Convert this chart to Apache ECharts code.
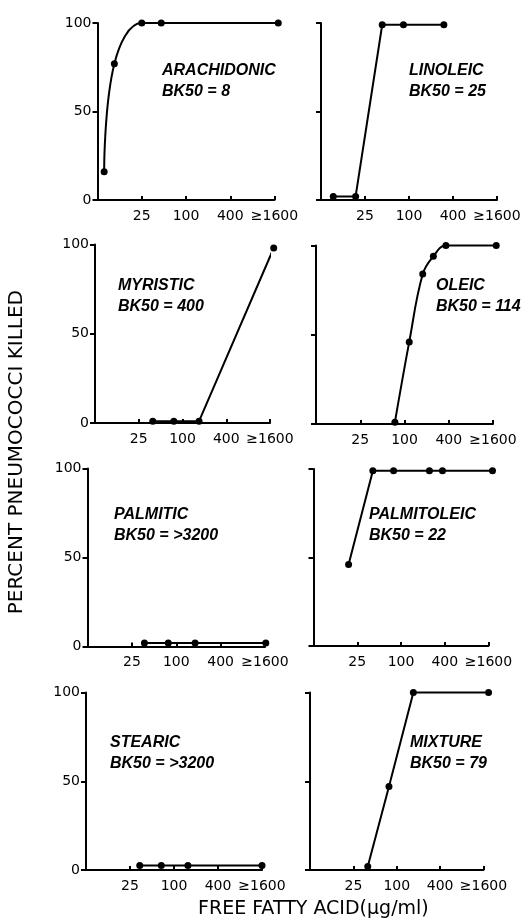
<!DOCTYPE html>
<html>
<head>
<meta charset="utf-8">
<script src="https://cdn.jsdelivr.net/npm/echarts@6/dist/echarts.min.js"></script>
<style>
html,body{margin:0;padding:0;background:#fff;}
#chart{width:530px;height:924px;}
</style>
</head>
<body>
<div id="chart"></div>
<script>
// ---- data (x = free fatty acid µg/ml, y = percent pneumococci killed) ----
const panelNames = ['ARACHIDONIC','LINOLEIC','MYRISTIC','OLEIC','PALMITIC','PALMITOLEIC','STEARIC','MIXTURE'];
const panelBK50 = ['BK50 = 8','BK50 = 25','BK50 = 400','BK50 = 114','BK50 = >3200','BK50 = 22','BK50 = >3200','BK50 = 79'];

const arachidonicX = [7.7, 10.6, 25, 46, 1800];
const arachidonicY = [16, 77, 100, 100, 100];
const linoleicX = [9.2, 18.6, 43, 84, 300];
const linoleicY = [2, 2, 99, 99, 99];
const myristicX = [39, 76, 169, 1800];
const myristicY = [1, 1, 1, 98];
const oleicX = [74, 116, 177, 247, 366, 1770];
const oleicY = [1, 46, 84, 94, 100, 100];
const palmiticX = [37, 78, 180, 1640];
const palmiticY = [2, 2, 2, 2];
const palmitoleicX = [19, 41, 79, 246, 372, 1815];
const palmitoleicY = [46, 99, 99, 99, 99, 99];
const stearicX = [34, 67, 155, 1600];
const stearicY = [2.5, 2.5, 2.5, 2.5];
const mixtureX = [39.6, 78, 170, 1880];
const mixtureY = [2, 47, 100, 100];

const xTicks = [25, 100, 400, 1600];
const yTicks = [0, 50, 100];

const seriesX = [arachidonicX, linoleicX, myristicX, oleicX, palmiticX, palmitoleicX, stearicX, mixtureX];
const seriesY = [arachidonicY, linoleicY, myristicY, oleicY, palmiticY, palmitoleicY, stearicY, mixtureY];
const smoothed = [true, false, false, true, false, false, false, false];

// ---- layout ----
const grids = [
  {left: 97.5, top: 23, width: 177, height: 177},
  {left: 321, top: 23, width: 176, height: 177},
  {left: 95, top: 244.5, width: 175, height: 178.5},
  {left: 316, top: 245.5, width: 177, height: 178.5},
  {left: 87.5, top: 468.5, width: 177.5, height: 178},
  {left: 313.5, top: 469, width: 175, height: 177},
  {left: 86, top: 692.5, width: 176, height: 177.5},
  {left: 310, top: 692.5, width: 173.5, height: 177.5}
];
const labelPos = [
  [162, 60], [409, 60], [118, 275], [436, 275],
  [114, 504], [369, 504], [110, 732], [410, 732]
];

const black = '#000';
const tickFont = {color: black, fontSize: 14, fontFamily: 'DejaVu Sans'};

const option = {
  backgroundColor: '#fff',
  animation: false,
  grid: grids.map(g => Object.assign({containLabel: false}, g)),
  xAxis: grids.map((g, i) => ({
    type: 'log', logBase: 4, gridIndex: i, min: 6.25, max: 1600,
    axisLine: {show: true, lineStyle: {color: black, width: 2}},
    axisTick: {show: true, inside: true, length: 4, customValues: xTicks, lineStyle: {color: black, width: 2}},
    axisLabel: Object.assign({show: true, margin: 9, customValues: xTicks,
      formatter: v => (Math.round(v) === 1600 ? '≥1600' : String(Math.round(v)))}, tickFont),
    splitLine: {show: false}, minorTick: {show: false}
  })),
  yAxis: grids.map((g, i) => ({
    type: 'value', gridIndex: i, min: 0, max: 100, interval: 50,
    axisLine: {show: true, lineStyle: {color: black, width: 2}},
    axisTick: {show: true, length: 5, lineStyle: {color: black, width: 2}},
    axisLabel: Object.assign({show: i % 2 === 0, margin: 6}, tickFont),
    splitLine: {show: false}
  })),
  series: seriesX.map((xs, i) => ({
    type: 'line', xAxisIndex: i, yAxisIndex: i,
    data: xs.map((x, k) => [x, seriesY[i][k]]),
    smooth: smoothed[i] ? 0.4 : false,
    clip: false,
    symbol: 'circle', symbolSize: 7,
    lineStyle: {color: black, width: 2},
    itemStyle: {color: black}
  })),
  graphic: [
    ...labelPos.map((p, i) => ({
      type: 'text', left: p[0], top: p[1],
      style: {
        text: panelNames[i] + '\n' + panelBK50[i],
        fill: black, font: 'italic bold 16px "Liberation Sans", sans-serif',
        lineHeight: 21
      }
    })),
    {
      type: 'text', left: 7, top: 290, rotation: Math.PI / 2,
      style: {
        text: 'PERCENT PNEUMOCOCCI KILLED', fill: black,
        font: '20px "DejaVu Sans", sans-serif'
      }
    },
    {
      type: 'text', left: 198, top: 900,
      style: {
        text: 'FREE FATTY ACID(µg/ml)', fill: black,
        font: '19px "DejaVu Sans", sans-serif'
      }
    }
  ]
};

const chart = echarts.init(document.getElementById('chart'), null, {renderer: 'canvas'});
chart.setOption(option);
</script>
</body>
</html>
